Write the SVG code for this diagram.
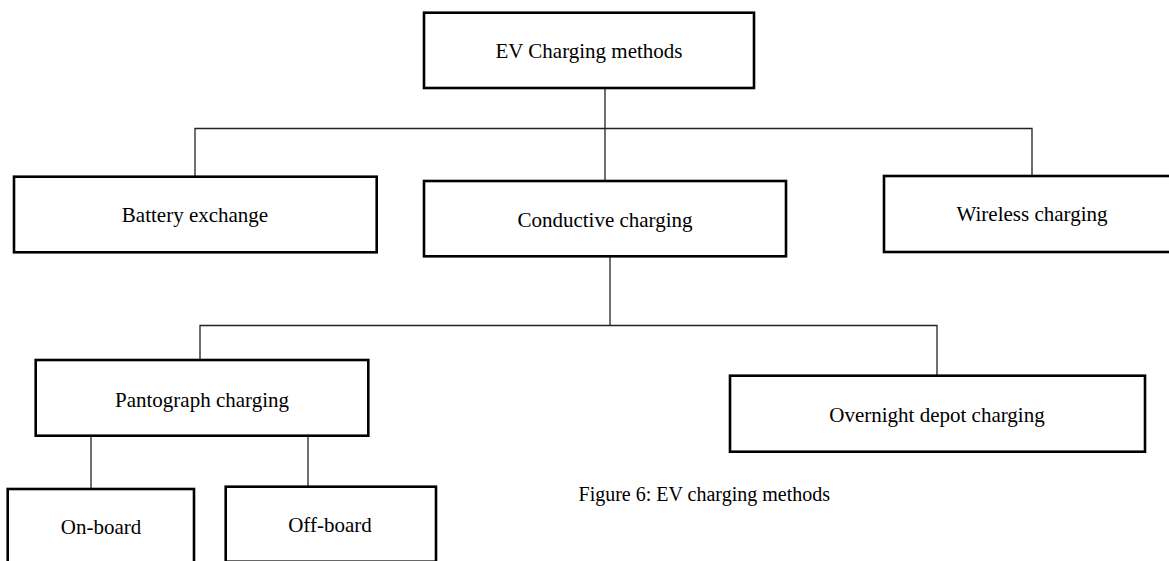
<svg xmlns="http://www.w3.org/2000/svg" width="1169" height="561" viewBox="0 0 1169 561">
<style>
.box{fill:#fff;stroke:#000;stroke-width:2.6}
.lbl{font-family:"Liberation Serif","Times New Roman",serif;font-size:21px;fill:#000;text-anchor:middle}
.cap{font-family:"Liberation Serif","Times New Roman",serif;font-size:20px;fill:#000}
.conn{fill:none;stroke:#222;stroke-width:1.3}
</style>
<rect width="1169" height="561" fill="#fff"/>
<g id="connectors">
<path class="conn" d="M605 88V181"/>
<path class="conn" d="M195 176.5V128.5H1032V176"/>
<path class="conn" d="M610 256V325.5"/>
<path class="conn" d="M200 360V325.5H937V375.5"/>
<path class="conn" d="M91 437V489"/>
<path class="conn" d="M308 436V486.5"/>
</g>
<g id="n-root"><rect class="box" x="424" y="12.7" width="330" height="75.3"/><text class="lbl" x="589" y="58.3">EV Charging methods</text></g>
<g id="n-battery"><rect class="box" x="14" y="176.7" width="362.7" height="75.6"/><text class="lbl" x="195" y="221.7">Battery exchange</text></g>
<g id="n-conductive"><rect class="box" x="424" y="181" width="362" height="75.3"/><text class="lbl" x="605" y="227">Conductive charging</text></g>
<g id="n-wireless"><rect class="box" x="884" y="176" width="300" height="76"/><text class="lbl" x="1032" y="220.5">Wireless charging</text></g>
<g id="n-pantograph"><rect class="box" x="35.7" y="360" width="332.6" height="75.7"/><text class="lbl" x="202" y="406.7">Pantograph charging</text></g>
<g id="n-overnight"><rect class="box" x="730" y="375.7" width="415" height="76"/><text class="lbl" x="937" y="422.3">Overnight depot charging</text></g>
<g id="n-onboard"><rect class="box" x="7.7" y="489" width="186.3" height="80"/><text class="lbl" x="101" y="534.3">On-board</text></g>
<g id="n-offboard"><rect class="box" x="225.7" y="486.7" width="210.3" height="75"/><text class="lbl" x="330" y="531.7">Off-board</text></g>
<text class="cap" x="830" y="501" text-anchor="end">Figure 6: EV charging methods</text>
</svg>
